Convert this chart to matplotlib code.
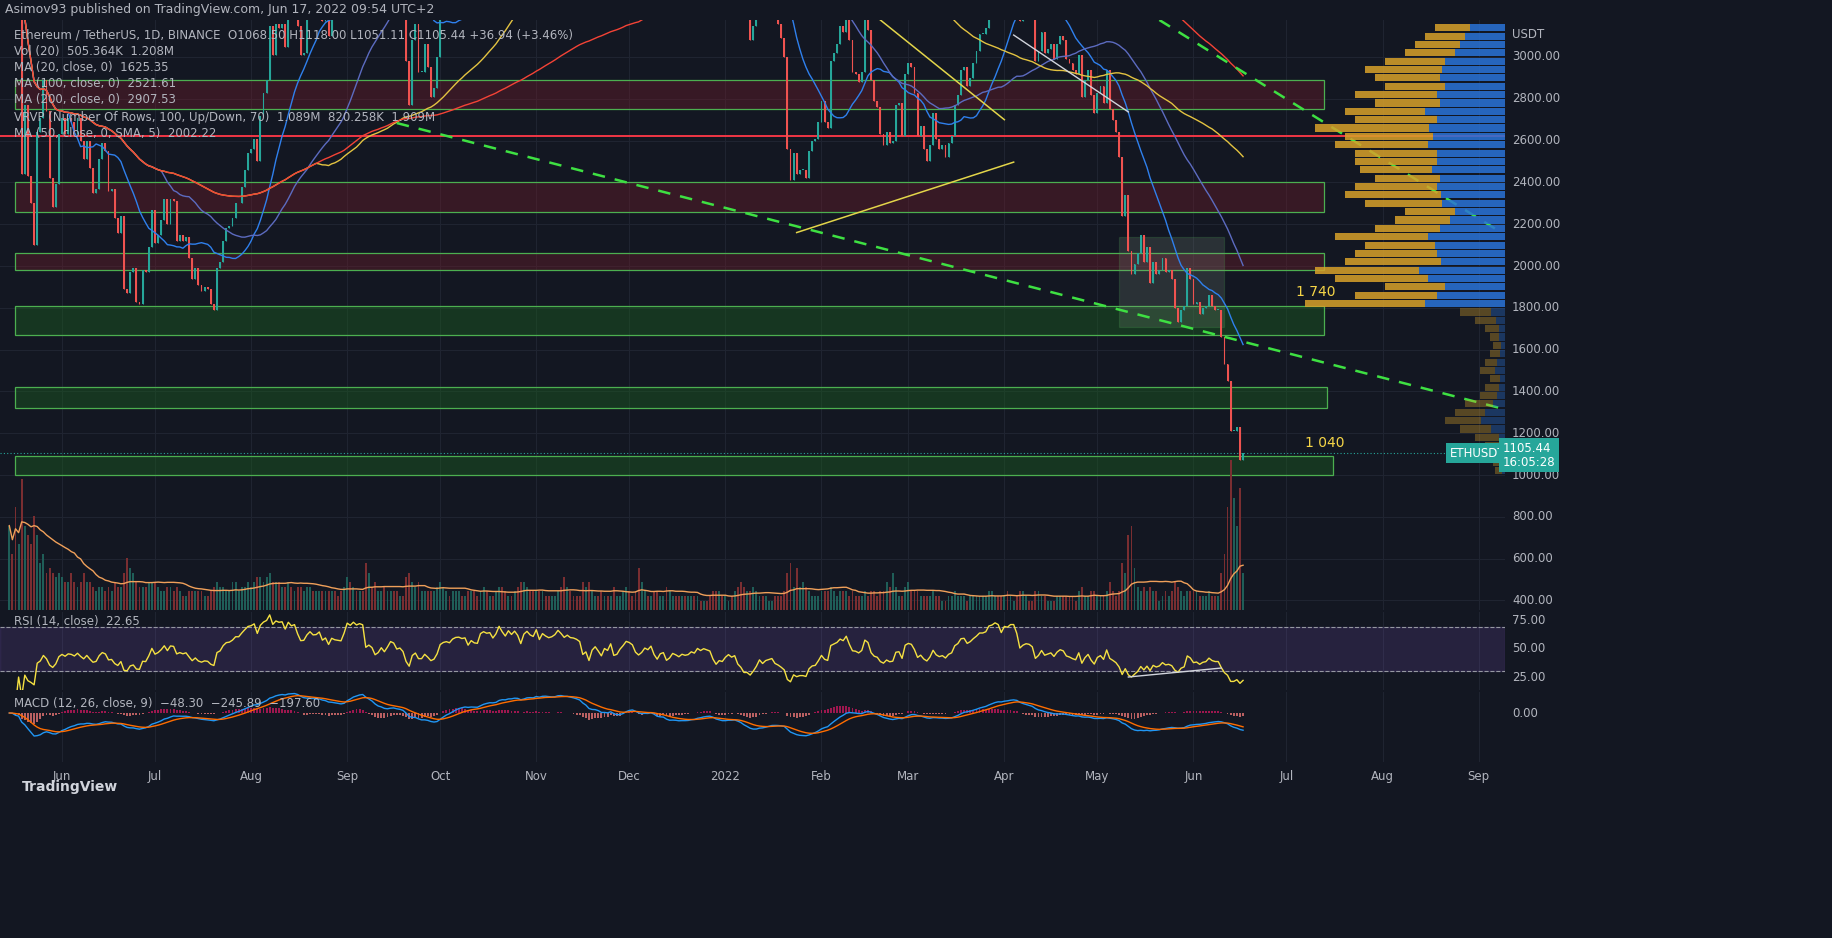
import numpy as np
import pandas as pd
import matplotlib
matplotlib.use("Agg")
import matplotlib.pyplot as plt
from matplotlib.patches import Rectangle

# ---------------- data ----------------
start_date = "2021-05-15"
closes = [
 3640,3590,3280,3390,2440,2770,2430,2300,2100,2640,2710,2890,2740,2420,2280,2390,2630,
 2710,2630,2710,2690,2630,2710,2600,2510,2600,2470,2350,2370,2510,2590,2550,2360,2370,2230,2160,2240,1890,1870,1970,1990,1830,1820,1980,1970,2090,2270,
 2110,2150,2220,2320,2200,2320,2310,2120,2150,2120,2140,2040,1940,1990,1910,1880,1900,1890,1820,1790,1990,2020,2120,2180,2190,2230,2300,2300,2380,2460,2540,
 2560,2610,2500,2720,2830,2890,3150,3010,3160,3140,3160,3050,3320,3260,3310,3150,3010,3020,3180,3290,3230,3240,3320,3170,3230,3100,3270,3240,3230,3220,3430,
 3830,3790,3940,3890,3950,3930,3430,3500,3430,3210,3270,3410,3290,3430,3610,3570,3400,3430,3330,2980,2770,3080,3160,2930,2930,3060,2950,2810,2850,3000,
 3310,3390,3420,3390,3520,3580,3590,3560,3580,3420,3550,3500,3490,3790,3860,3830,3850,3750,3880,4170,4060,3970,4170,4090,4220,4130,3930,4290,4420,4330,4290,
 4590,4320,4600,4530,4480,4520,4610,4810,4730,4630,4720,4660,4650,4620,4570,4220,4290,3990,4300,4420,4270,4090,4340,4270,4520,4050,4090,4290,4440,4630,
 4590,4510,4230,4110,4200,4360,4300,4430,4110,3900,4090,4130,3780,3860,4020,3960,3880,3960,3920,3940,4020,3980,4110,4050,4100,4070,4040,3810,3630,3710,3680,
 3770,3830,3760,3790,3540,3420,3200,3200,3080,3150,3240,3370,3250,3310,3330,3350,3210,3160,3090,3000,2560,2410,2540,2440,2460,2460,2420,2550,2600,2610,2690,
 2790,2690,2660,2980,3020,3060,3150,3120,3240,3080,2930,2920,2880,2930,3180,3130,2890,2790,2760,2630,2580,2640,2590,2600,2770,2780,2620,2920,
 2970,2950,2830,2620,2670,2560,2500,2580,2730,2610,2560,2580,2520,2590,2620,2770,2820,2940,2950,2860,2900,2970,3030,3110,3110,3140,3300,3330,3400,3380,3280,
 3450,3440,3520,3520,3410,3170,3230,3260,3250,3210,2980,3030,3120,3020,3040,3060,2990,3060,3100,3080,2990,2970,2940,2920,3010,2810,2890,2940,2820,2730,
 2830,2860,2780,2940,2750,2700,2640,2520,2240,2340,2070,1960,2010,2060,2150,2020,2090,1920,2020,1960,1980,2040,1970,1980,1940,1800,1730,1790,1810,1990,1940,
 1820,1830,1770,1800,1810,1860,1810,1790,1790,1660,1530,1450,1210,1210,1230,1070,1105]
volumes = [
 90,60,110,70,140,90,80,70,100,80,50,60,40,45,40,35,40,
 35,30,30,40,30,25,30,40,30,30,25,20,25,25,20,25,20,30,25,25,40,55,45,40,30,25,25,25,30,30,
 30,25,20,20,25,25,20,25,20,15,15,20,20,20,20,20,15,15,20,25,30,25,25,20,20,30,30,20,25,25,30,
 25,30,35,35,30,35,40,30,30,30,25,25,30,25,20,25,25,20,25,25,20,20,20,20,20,20,20,20,15,20,25,
 35,30,25,20,20,20,50,40,25,30,20,20,25,20,20,20,20,15,15,35,40,30,25,30,20,20,20,20,20,25,
 30,25,20,15,20,20,20,15,15,20,20,20,15,20,25,20,15,15,20,25,25,20,15,15,20,25,30,30,25,20,20,
 20,20,20,15,15,15,15,20,25,35,25,20,15,15,15,30,25,30,20,15,15,20,15,15,15,25,15,15,20,25,
 20,15,20,45,30,20,15,15,20,20,15,15,25,20,15,15,15,15,15,15,15,15,15,10,10,10,15,20,20,20,15,
 15,10,15,20,25,30,25,20,20,25,20,15,15,15,10,10,15,15,15,20,40,50,25,45,25,30,25,20,15,15,15,
 20,20,20,25,20,15,20,20,20,15,20,15,15,15,20,15,20,20,15,20,20,30,25,40,25,15,15,25,
 30,20,20,20,15,15,15,15,20,15,15,10,10,15,15,20,15,15,15,10,15,15,15,15,15,15,20,20,15,15,15,
 15,20,15,10,15,20,20,15,10,10,20,20,15,15,10,10,10,15,15,15,15,15,15,10,20,25,15,15,20,20,
 15,15,15,20,30,20,15,20,50,40,80,90,45,25,20,25,20,25,20,20,10,15,20,15,20,30,25,20,15,20,20,
 20,20,15,15,15,20,15,15,15,40,60,110,160,120,90,130,40]
price_ticks = [3000,2800,2600,2400,2200,2000,1800,1600,1400,1200,1000,800,600,400]
vp_prices = list(range(1000, 3160, 40))
vp_total = [10,12,15,20,30,45,60,50,40,25,20,15,25,20,15,12,15,20,30,45,
            200,150,120,170,190,160,150,140,170,130,110,100,140,160,150,130,145,150,150,170,
            160,190,150,160,130,150,120,130,140,120,100,90,80,70]
vp_upshare = [0.3,0.3,0.4,0.3,0.2,0.3,0.4,0.4,0.3,0.3,0.3,0.3,0.4,0.4,0.3,0.3,0.4,0.3,0.3,0.3,
              0.4,0.45,0.5,0.45,0.45,0.4,0.45,0.5,0.45,0.5,0.5,0.5,0.45,0.4,0.45,0.5,0.5,0.45,0.45,0.45,
              0.45,0.4,0.45,0.5,0.5,0.45,0.5,0.5,0.45,0.5,0.5,0.5,0.5,0.5]

n = min(len(closes), len(volumes))
closes = np.array(closes[:n], float)
volumes = np.array(volumes[:n], float)
opens = np.r_[closes[0], closes[:-1]]
d0 = pd.Timestamp(start_date)
days = np.arange(n)
def dd(s):
    return (pd.Timestamp(s) - d0).days

s = pd.Series(closes)
ma20 = s.rolling(20, min_periods=1).mean()
ma50 = s.rolling(50, min_periods=1).mean()
ma100 = s.rolling(100, min_periods=1).mean()
ma200 = s.rolling(200, min_periods=1).mean()
vma = pd.Series(volumes).rolling(20, min_periods=1).mean()
delta = s.diff().fillna(0)
up = delta.clip(lower=0).ewm(alpha=1/14, adjust=False).mean()
dn = (-delta.clip(upper=0)).ewm(alpha=1/14, adjust=False).mean()
rsi = 100 - 100/(1 + up/dn.replace(0, 1e-9))
macd = s.ewm(span=12, adjust=False).mean() - s.ewm(span=26, adjust=False).mean()
sig = macd.ewm(span=9, adjust=False).mean()
hist = macd - sig

# ---------------- figure ----------------
BG = "#131722"; TXT = "#b2b5be"; GRID = "#1f2431"
UPC = "#26a69a"; DNC = "#ef5350"
W, H = 1833, 938
fig = plt.figure(figsize=(W/100, H/100), dpi=100, facecolor=BG)
def fx(px): return px/W
def fy(py): return 1 - py/H
xl = (-3.0, 482.5)

ax = fig.add_axes([0, fy(610), fx(1505), fy(20)-fy(610)], facecolor=BG)
axv = fig.add_axes(ax.get_position(), facecolor="none", sharex=ax)
axp = fig.add_axes(ax.get_position(), facecolor="none")
ar = fig.add_axes([0, fy(690), fx(1505), fy(612)-fy(690)], facecolor=BG, sharex=ax)
am = fig.add_axes([0, fy(762), fx(1505), fy(692)-fy(762)], facecolor=BG, sharex=ax)

ylo, yhi = 354, 3177
ax.set_xlim(*xl); ax.set_ylim(ylo, yhi)
for a in (ax, ar, am):
    for sp in a.spines.values(): sp.set_visible(False)
    a.tick_params(colors=TXT, length=0, labelsize=8.5)
for a in (axv, axp):
    a.axis("off")

month_starts = pd.date_range("2021-06-01", "2022-09-01", freq="MS")
mpos = [(m - d0).days for m in month_starts]
mlab = ["2022" if m.month == 1 else m.strftime("%b") for m in month_starts]
for a in (ax, ar, am):
    for p in mpos: a.axvline(p, color=GRID, lw=0.8, zorder=0)
for p in price_ticks:
    ax.axhline(p, color=GRID, lw=0.8, zorder=0)

# zones
z_end = dd("2022-07-13")
def zone(lo, hi, fc, end=z_end, alpha=0.35):
    ax.add_patch(Rectangle((dd("2021-05-17"), lo), end-dd("2021-05-17"), hi-lo,
                           facecolor=fc, alpha=alpha, edgecolor="none", zorder=1))
    ax.add_patch(Rectangle((dd("2021-05-17"), lo), end-dd("2021-05-17"), hi-lo,
                           facecolor="none", edgecolor="#4caf50", lw=0.9, zorder=1))
zone(2750, 2890, "#7b1e2b")
zone(2260, 2400, "#7b1e2b")
zone(1980, 2060, "#7b1e2b")
zone(1670, 1810, "#1b5e20", alpha=0.45)
zone(1320, 1420, "#1b5e20", end=dd("2022-07-14"), alpha=0.45)
zone(1000, 1090, "#1b5e20", end=dd("2022-07-16"), alpha=0.45)
ax.axhline(2620, color="#f23645", lw=1.4, zorder=2)
ax.add_patch(Rectangle((dd("2022-05-08"), 1710), 34, 430, facecolor="#8a9a8a", alpha=0.2,
                       edgecolor="#4caf50", lw=0.9, zorder=2))

# volume
axv.set_ylim(0, 160*590/150)
axv.bar(days, volumes, width=0.6, color=np.where(closes >= opens, "#1f5e58", "#7a2e31"), zorder=1)
axv.plot(days, vma, color="#f0a05a", lw=1.0)

# candles
col = np.where(closes >= opens, UPC, DNC)
lo_b = np.minimum(opens, closes); hi_b = np.maximum(opens, closes)
ax.vlines(days, lo_b, hi_b, color=col, lw=0.8, zorder=4)
ax.bar(days, np.maximum(hi_b-lo_b, 3), bottom=lo_b, width=0.6, color=col, zorder=5)
ax.plot(days, ma20, color="#2f80ed", lw=1, zorder=6)
ax.plot(days, ma50, color="#5c6bc0", lw=1, zorder=6)
ax.plot(days, ma100, color="#e3c341", lw=1, zorder=6)
ax.plot(days, ma200, color="#f44336", lw=1, zorder=6)

# trendlines
def tl(a, b, c, **kw):
    ax.plot([dd(a[0]), dd(b[0])], [a[1], b[1]], color=c, zorder=7, **kw)
tl(("2021-09-17", 2684), ("2022-09-08", 1320), "#3ee042", lw=1.8, ls=(0, (5, 4)))
tl(("2022-05-21", 3177), ("2022-09-08", 2163), "#3ee042", lw=1.8, ls=(0, (5, 4)))
tl(("2022-01-24", 2160), ("2022-04-04", 2497), "#e3d54a", lw=1.1)
tl(("2022-02-20", 3177), ("2022-04-01", 2700), "#e3d54a", lw=1.1)
tl(("2022-04-04", 3105), ("2022-05-11", 2737), "#d1d4dc", lw=1.0)
ax.text(dd("2022-07-04"), 1857, "1 740", color="#f5d547", fontsize=10)
ax.text(dd("2022-07-07"), 1134, "1 040", color="#f5d547", fontsize=10)
ax.axhline(1105.44, color="#26a69a", lw=0.8, ls=(0, (1, 2)), zorder=3)

# volume profile
axp.set_xlim(1505, 0); axp.set_ylim(ylo, yhi)
for p, t, u in zip(vp_prices, vp_total, vp_upshare):
    a_ = 0.35 if p < 1800 else 0.85
    axp.barh(p+20, t*u, height=34, left=0, color="#2a73d8", alpha=a_)
    axp.barh(p+20, t*(1-u), height=34, left=t*u, color="#d8a12a", alpha=a_)

# price axis labels
for p in price_ticks:
    fig.text(fx(1512), fy(57 + (3000-p)*0.209), f"{p:.2f}" if p < 1000 else f"{p}.00",
             color=TXT, fontsize=8.5, va="center")
fig.text(fx(1512), fy(35), "USDT", color=TXT, fontsize=8.5, va="center")
fig.text(fx(1450), fy(453), "ETHUSDT", color="white", fontsize=8.5, va="center",
         bbox=dict(boxstyle="square,pad=0.3", fc="#26a69a", ec="none"))
fig.text(fx(1503), fy(455), "1105.44\n16:05:28", color="white", fontsize=8.5, va="center",
         linespacing=1.1, bbox=dict(boxstyle="square,pad=0.3", fc="#26a69a", ec="none"))

# RSI
ar.set_ylim(13.4, 83); ar.set_yticks([])
ar.axhspan(30, 70, color="#7e57c2", alpha=0.18)
ar.axhline(70, color="#9598a1", lw=0.8, ls="--"); ar.axhline(30, color="#9598a1", lw=0.8, ls="--")
ar.plot(days, rsi, color="#f5e142", lw=1)
ar.plot([dd("2022-05-11"), dd("2022-06-10")], [25, 33], color="#d1d4dc", lw=1)
for v, py in [(75, 621), (50, 648), (25, 677)]:
    fig.text(fx(1512), fy(py), f"{v:.2f}", color=TXT, fontsize=8.5, va="center")

# MACD
am.set_ylim(-700, 300); am.set_yticks([])
am.bar(days, hist, width=0.6, color=np.where(hist >= 0, "#c2185b", "#e57373"), alpha=0.8)
am.plot(days, macd, color="#2196f3", lw=1)
am.plot(days, sig, color="#ff6d00", lw=1)
fig.text(fx(1512), fy(713), "0.00", color=TXT, fontsize=8.5, va="center")
am.set_xticks(mpos); am.set_xticklabels(mlab)
ax.tick_params(labelbottom=False, labelleft=False); ar.tick_params(labelbottom=False)
am.tick_params(axis="x", pad=6)

# header / legend texts
fig.text(fx(5), fy(10), "Asimov93 published on TradingView.com, Jun 17, 2022 09:54 UTC+2",
         color=TXT, fontsize=9, va="center")
leg = [(35, "Ethereum / TetherUS, 1D, BINANCE  O1068.50 H1118.00 L1051.11 C1105.44 +36.94 (+3.46%)", "#b2b5be"),
       (51, "Vol (20)  505.364K  1.208M", "#b2b5be"),
       (67, "MA (20, close, 0)  1625.35", "#b2b5be"),
       (84, "MA (100, close, 0)  2521.61", "#b2b5be"),
       (100, "MA (200, close, 0)  2907.53", "#b2b5be"),
       (117, "VRVP (Number Of Rows, 100, Up/Down, 70)  1.089M  820.258K  1.909M", "#b2b5be"),
       (134, "MA (50, close, 0, SMA, 5)  2002.22", "#b2b5be")]
for py, t, c in leg:
    fig.text(fx(14), fy(py), t, color=c, fontsize=8.5, va="center")
fig.text(fx(14), fy(622), "RSI (14, close)  22.65", color=TXT, fontsize=8.5, va="center")
fig.text(fx(14), fy(703), "MACD (12, 26, close, 9)  \u221248.30  \u2212245.89  \u2212197.60", color=TXT, fontsize=8.5, va="center")
fig.text(fx(22), fy(787), "TradingView", color="#d1d4dc", fontsize=10, fontweight="bold", va="center")
fig.savefig("out.png", dpi=100, facecolor=BG)
